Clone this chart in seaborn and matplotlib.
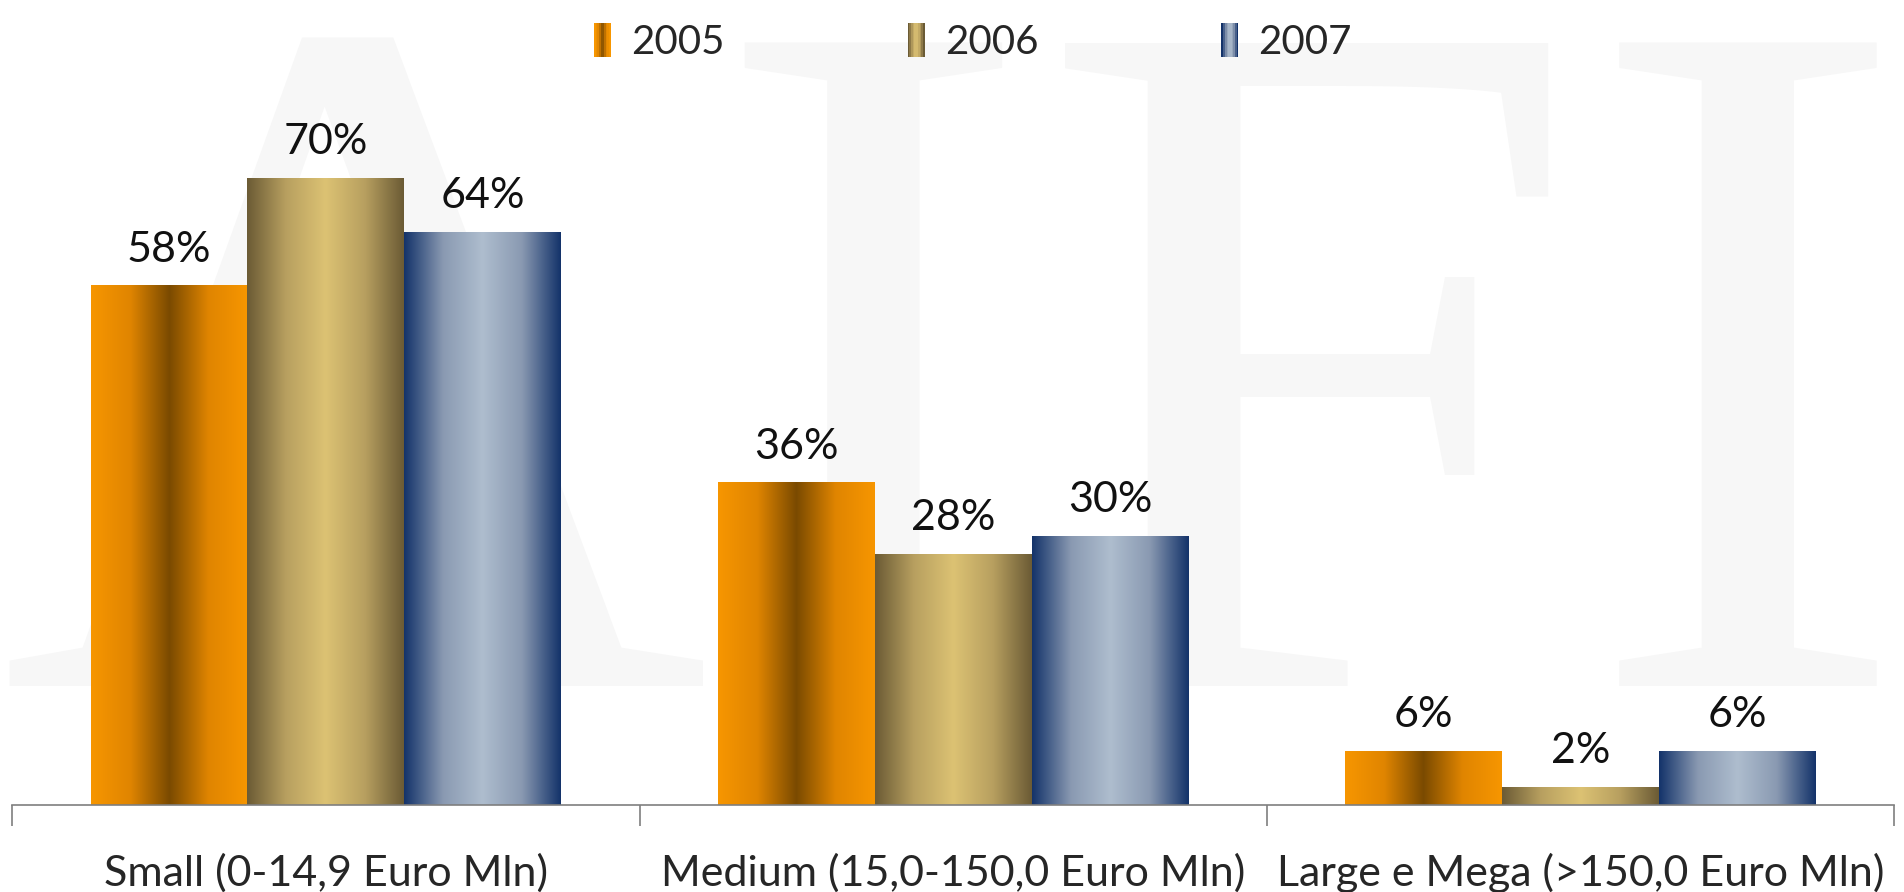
import numpy as np
import pandas as pd
import seaborn as sns
import matplotlib.pyplot as plt
from matplotlib.colors import LinearSegmentedColormap
from matplotlib.patches import Rectangle
from matplotlib.legend_handler import HandlerBase

# data
categories = ['Small (0-14,9 Euro Mln)', 'Medium (15,0-150,0 Euro Mln)',
              'Large e Mega (>150,0 Euro Mln)']
years = ['2005', '2006', '2007']
v2005 = [58, 36, 6]
v2006 = [70, 28, 2]
v2007 = [64, 30, 6]

# edge colour -> centre colour of each bar gradient
grad_cols = {
    '2005': ['#f79600', '#e08500', '#7a4a00', '#e08500', '#f79600'],
    '2006': ['#6b5b35', '#b8a060', '#dcc273', '#b8a060', '#6b5b35'],
    '2007': ['#14336a', '#8a9ab2', '#aebdce', '#8a9ab2', '#14336a'],
}
cmaps = {y: LinearSegmentedColormap.from_list(y, c) for y, c in grad_cols.items()}

df = pd.DataFrame({
    'cat': categories * 3,
    'year': [y for y in years for _ in categories],
    'val': v2005 + v2006 + v2007,
})

sns.set_style('white')
plt.rcParams['font.family'] = ['Lato', 'DejaVu Sans']

fig = plt.figure(figsize=(19.04, 8.92), dpi=100)

# watermark in the background, behind the axes
fig.text(0.502, 0.231, 'AIFI', family='Liberation Serif', fontsize=708,
         color='#f7f7f7', ha='center', va='baseline', zorder=-5)

ax = fig.add_axes([0.0064, 0.098, 0.9885, 0.803])
ax.patch.set_alpha(0)

sns.barplot(data=df, x='cat', y='val', hue='year', hue_order=years,
            palette=[c[2] for c in grad_cols.values()], width=0.75, gap=0,
            saturation=1, legend=False, ax=ax)

# paint gradients into the bars
grad = np.linspace(0, 1, 256).reshape(1, -1)
for cont, y in zip(ax.containers, years):
    for p in cont.patches:
        x0, y0 = p.get_x(), p.get_y()
        w, h = p.get_width(), p.get_height()
        im = ax.imshow(grad, cmap=cmaps[y], aspect='auto',
                       extent=[x0, x0 + w, y0, y0 + h], zorder=2)
        im.set_clip_path(p)
        p.set_facecolor('none')
        p.set_edgecolor('none')
    ax.bar_label(cont, labels=[f'{int(v)}%' for v in cont.datavalues],
                 padding=12, fontsize=31, color='#111111')

ax.set_xlim(-0.5, 2.5)
ax.set_ylim(0, 80)
ax.set_yticks([])
ax.set_xlabel('')
ax.set_ylabel('')
for s in ['top', 'right', 'left']:
    ax.spines[s].set_visible(False)
ax.spines['bottom'].set_color('#7f7f7f')
ax.spines['bottom'].set_linewidth(1.2)

ax.set_xticks([-0.5, 0.5, 1.5, 2.5])
ax.set_xticklabels([])
ax.tick_params(axis='x', which='major', bottom=True, length=15,
               color='#7f7f7f', width=1.2, direction='out')
ax.set_xticks([0, 1, 2], minor=True)
ax.set_xticklabels(categories, minor=True, fontsize=31)
ax.tick_params(axis='x', which='minor', length=0, pad=35)


class GradHandler(HandlerBase):
    def __init__(self, cols):
        super().__init__()
        self.cols = cols

    def create_artists(self, legend, orig, xd, yd, width, height, fontsize, trans):
        cm = LinearSegmentedColormap.from_list('h', self.cols)
        n = 10
        arts = []
        for i in range(n):
            r = Rectangle((xd + i * width / n, yd - 2), width / n, height + 4,
                          facecolor=cm(i / (n - 1)), edgecolor='none', transform=trans)
            arts.append(r)
        return arts


handles = [Rectangle((0, 0), 1, 1) for _ in years]
handler_map = {h: GradHandler(grad_cols[y]) for h, y in zip(handles, years)}
fig.legend(handles, years, handler_map=handler_map, loc='upper center',
           bbox_to_anchor=(0.511, 1.014), ncol=3, frameon=False, fontsize=29,
           handlelength=0.42, handletextpad=0.5, columnspacing=4.55)

fig.savefig('out.png', dpi=100)
